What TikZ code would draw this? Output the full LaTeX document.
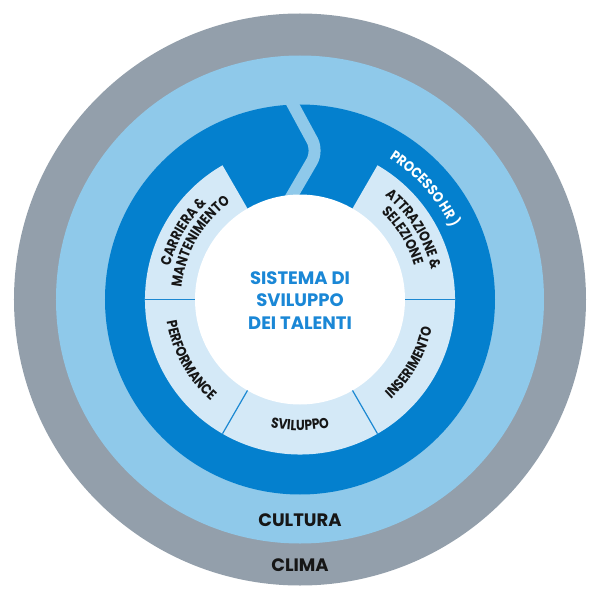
\documentclass[tikz,border=0pt]{standalone}
\usepackage{fontspec}
\setmainfont{Poppins}
\newfontfamily\labfam{Poppins}[FakeStretch=0.85]
\usetikzlibrary{decorations.text}
\definecolor{cgray}{HTML}{939FAB}
\definecolor{clight}{HTML}{8FC9EA}
\definecolor{cdark}{HTML}{0480CE}
\definecolor{cseg}{HTML}{D4E9F7}
\definecolor{cline}{HTML}{1B88D2}
\definecolor{ctext}{HTML}{1A87D6}
\definecolor{clabel}{HTML}{161616}
\newcommand\labfont{\labfam\bfseries\fontsize{14.5}{14.5}\selectfont}
\newcommand\hrfont{\labfam\bfseries\fontsize{14.5}{14.5}\selectfont}
\begin{document}
\begin{tikzpicture}[x=1pt,y=1pt,
  arclabel/.style={decorate, decoration={text along path, text align=center, text color=clabel, text={#1}}},
  seprule/.style={cline, line width=1.2pt},
  ringtext/.style={font=\bfseries\fontsize{18}{18}\selectfont, text=clabel, inner sep=0pt}
]
\useasboundingbox (-300,-300.5) rectangle (300,299.5);
% rings
\fill[cgray] (0,0) circle (286);
\fill[clight] (0,0) circle (244);
\fill[cdark] (0,0) circle (195);
% chevron stripe
\draw[clight, line width=12pt, rounded corners=12pt] (-11,202) -- (18,148.5) -- (-12,97);
% segment ring
\fill[cseg] (0,0) -- (120:155) arc[start angle=120, end angle=420, radius=155] -- cycle;
\fill[white] (0,0) circle (105);
% separators
\draw[seprule] (0:105) -- (0:155);
\draw[seprule] (180:105) -- (180:155);
\draw[seprule] (240:105) -- (240:155);
\draw[seprule] (300:105) -- (300:155);
% center
\node[text=ctext, font=\bfseries\fontsize{18}{22.5}\selectfont, align=center] (centre) at (0,-1) {SISTEMA DI\\SVILUPPO\\DEI TALENTI};
% outer ring labels
\node[ringtext] (cultura) at (0,-220.5) {CULTURA};
\node[ringtext] (clima) at (0,-265.5) {CLIMA};
% segment labels
\path[arclabel={|\labfont|CARRIERA {\&}}] (185:134) arc[start angle=185, end angle=115, radius=134];
\path[arclabel={|\labfont|MANTENIMENTO}] (185:119) arc[start angle=185, end angle=115, radius=119];
\path[arclabel={|\labfont|ATTRAZIONE {\&}}] (66.8:134.5) arc[start angle=66.8, end angle=-3.2, radius=134.5];
\path[arclabel={|\labfont|SELEZIONE}] (66.8:119) arc[start angle=66.8, end angle=-3.2, radius=119];
\path[arclabel={|\labfont|PERFORMANCE}] (174:135) arc[start angle=174, end angle=244, radius=135];
\path[arclabel={|\labfont|SVILUPPO}] (235:131) arc[start angle=235, end angle=305, radius=131];
\path[arclabel={|\labfont|INSERIMENTO}] (-65:135) arc[start angle=-65, end angle=5, radius=135];
% process label
\path[arclabel={|\hrfont|PROCESSO HR )}, decoration={text color=white}] (81.5:167) arc[start angle=81.5, end angle=1.5, radius=167];
\end{tikzpicture}
\end{document}
